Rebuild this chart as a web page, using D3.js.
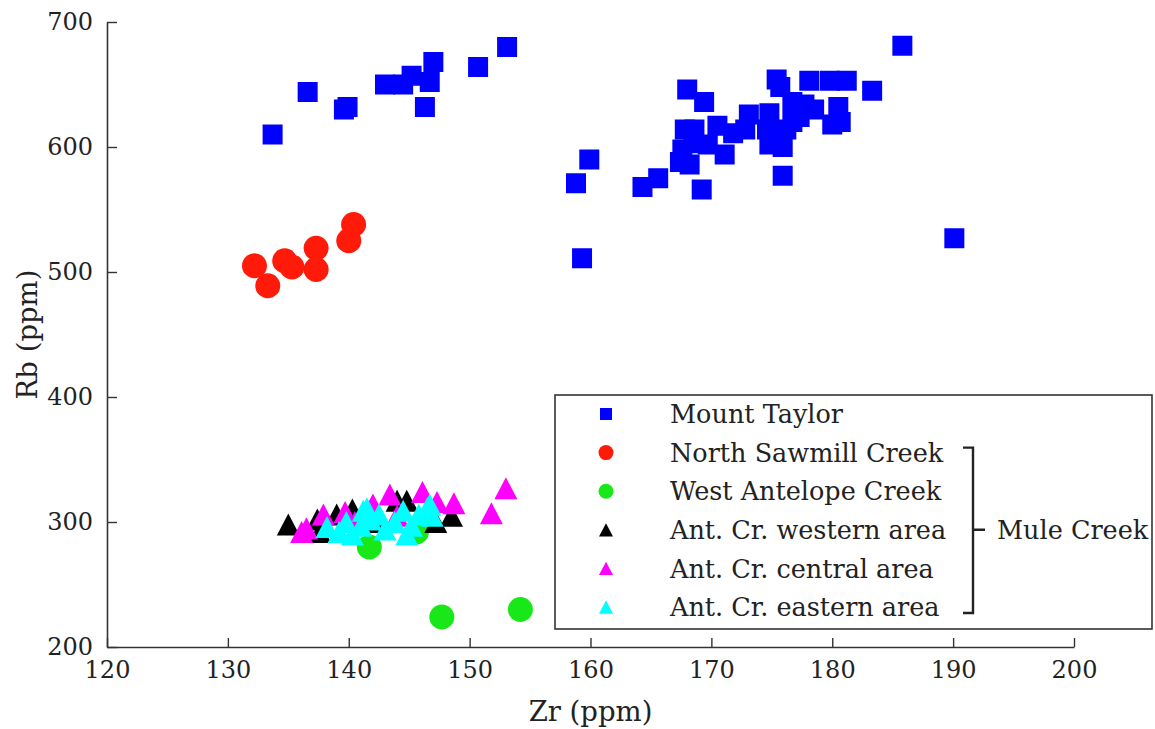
<!DOCTYPE html>
<html>
<head>
<meta charset="utf-8">
<script src="https://cdn.jsdelivr.net/npm/d3@7"></script>
<style>
  html, body { margin: 0; padding: 0; background: #fff; }
  svg { display: block; }
  text { font-family: "DejaVu Serif", serif; fill: #222; }
</style>
</head>
<body>
<svg id="chart" width="1155" height="729"></svg>
<script>
// Zr vs Rb (ppm) for Mount Taylor and Mule Creek obsidian sources

const xTicks = [120, 130, 140, 150, 160, 170, 180, 190, 200];
const yTicks = [200, 300, 400, 500, 600, 700];

const mountTaylor = [
  [133.7, 610], [136.6, 644], [139.6, 630], [139.9, 632], [143.0, 650], [144.5, 650],
  [145.2, 657], [146.7, 652], [147.0, 668], [146.3, 632], [150.7, 664], [153.1, 680],
  [185.8, 681], [159.9, 590], [158.8, 571], [159.3, 511], [190.1, 527], [164.3, 568],
  [165.6, 575], [169.2, 566], [175.9, 577], [168.0, 646], [169.4, 636], [175.4, 654],
  [175.7, 648], [178.1, 653], [179.8, 653], [181.2, 653], [183.3, 645], [180.5, 632],
  [180.7, 620], [180.0, 618], [176.7, 636], [177.7, 634], [178.5, 630], [177.3, 624],
  [176.7, 620], [173.1, 626], [174.8, 627], [174.6, 614], [174.8, 602], [175.9, 600],
  [176.2, 614], [172.8, 614], [170.5, 617], [171.8, 611], [171.1, 594], [167.8, 614],
  [168.6, 614], [167.6, 598], [169.7, 602], [167.4, 588], [168.2, 586], [168.5, 603]
];

const northSawmill = [
  [132.2, 505], [133.3, 489], [134.7, 509], [135.3, 504],
  [137.3, 519], [137.3, 502], [140.0, 525], [140.4, 538]
];

const westAntelope = [[147.7, 224], [154.2, 230], [141.7, 280], [145.6, 292]];

const antWestern = [
  [135.0, 298], [137.4, 302], [137.6, 292], [139.0, 306], [140.3, 310],
  [144.0, 317], [144.8, 317], [147.2, 300], [148.5, 305], [142.5, 300]
];

const antCentral = [
  [136.1, 292], [136.5, 295], [137.9, 306], [139.7, 308], [140.5, 300], [142.0, 314],
  [143.4, 322], [144.0, 305], [146.1, 324], [147.3, 316], [148.7, 315], [151.8, 307],
  [153.0, 327]
];

const antEastern = [
  [138.2, 296], [139.2, 292], [139.8, 300], [140.3, 290], [141.0, 297], [141.2, 309],
  [141.5, 311], [141.8, 302], [142.5, 306], [143.0, 294], [143.8, 300], [144.5, 309],
  [144.8, 290], [145.2, 297], [145.8, 306], [146.5, 311], [146.7, 314], [146.9, 305]
];

const seriesNames = [
  "Mount Taylor", "North Sawmill Creek", "West Antelope Creek",
  "Ant. Cr. western area", "Ant. Cr. central area", "Ant. Cr. eastern area"
];
const groupLabel = "Mule Creek";

const seriesData = [mountTaylor, northSawmill, westAntelope, antWestern, antCentral, antEastern];
const seriesColors = ["#0000ff", "#ff1a0a", "#18e818", "#000000", "#ff00ff", "#00ffff"];
const seriesShapes = ["square", "circle", "circle", "triangle", "triangle", "triangle"];

const serif = "'DejaVu Serif', serif";
const svg = d3.select("#chart");

const x = d3.scaleLinear().domain([120, 200]).range([107, 1074]);
const y = d3.scaleLinear().domain([200, 700]).range([647, 22]);

// marker shapes centred on their bounding box; size = width in px
const triBox = {
  draw(ctx, s) {
    const w = s, h = s * 0.95;
    ctx.moveTo(0, -h / 2);
    ctx.lineTo(w / 2, h / 2);
    ctx.lineTo(-w / 2, h / 2);
    ctx.closePath();
  }
};
const squareBox = {
  draw(ctx, s) { ctx.rect(-s / 2, -s / 2, s, s); }
};
const circleBox = {
  draw(ctx, s) { ctx.moveTo(s / 2, 0); ctx.arc(0, 0, s / 2, 0, 2 * Math.PI); }
};
const shapeType = { square: squareBox, circle: circleBox, triangle: triBox };
const plotSize = { square: 20, circle: 25, triangle: 23 };
const legendSize = { square: 12, circle: 15, triangle: 14 };

// axes, ticks pointing into the plot
const axisColor = "#333";
const xAxis = d3.axisBottom(x).tickValues(xTicks).tickSizeInner(-9).tickSizeOuter(0).tickPadding(14);
const yAxis = d3.axisLeft(y).tickValues(yTicks).tickSizeInner(-10).tickSizeOuter(0).tickPadding(14);

const gx = svg.append("g").attr("transform", `translate(0,${y(200)})`).call(xAxis);
const gy = svg.append("g").attr("transform", `translate(${x(120)},0)`).call(yAxis);
[gx, gy].forEach(g => {
  g.attr("font-family", serif);
  g.select(".domain").attr("stroke", axisColor).attr("stroke-width", 1.6);
  g.selectAll(".tick line").attr("stroke", axisColor).attr("stroke-width", 1.4);
  g.selectAll(".tick text")
    .attr("fill", "#222")
    .style("font-family", serif)
    .style("font-size", "24px");
});

// axis titles
svg.append("text")
  .attr("x", (x(120) + x(200)) / 2).attr("y", 721)
  .attr("text-anchor", "middle")
  .style("font-size", "27.5px")
  .text("Zr (ppm)");

svg.append("text")
  .attr("transform", `translate(37,${(y(200) + y(700)) / 2}) rotate(-90)`)
  .attr("text-anchor", "middle")
  .style("font-size", "27.5px")
  .text("Rb (ppm)");

// data marks
const sym = d3.symbol();
seriesData.forEach((data, i) => {
  const shape = seriesShapes[i];
  svg.append("g")
    .selectAll("path")
    .data(data)
    .join("path")
    .attr("transform", d => `translate(${x(d[0])},${y(d[1])})`)
    .attr("d", sym.type(shapeType[shape]).size(plotSize[shape])())
    .attr("fill", seriesColors[i]);
});

// legend
const legend = svg.append("g");
legend.append("rect")
  .attr("x", 555).attr("y", 395).attr("width", 597).attr("height", 234)
  .attr("fill", "#fff").attr("stroke", axisColor).attr("stroke-width", 1.6);

const rowY = i => 414 + i * 38.6;
seriesNames.forEach((name, i) => {
  const shape = seriesShapes[i];
  legend.append("path")
    .attr("transform", `translate(606,${rowY(i)})`)
    .attr("d", d3.symbol().type(shapeType[shape]).size(legendSize[shape])())
    .attr("fill", seriesColors[i]);
  legend.append("text")
    .attr("x", 670).attr("y", rowY(i))
    .attr("dy", "0.36em")
    .style("font-size", "25.5px")
    .text(name);
});

// bracket grouping the Mule Creek sources
const bTop = rowY(1) - 5, bBot = rowY(5) + 6, bx = 973;
const bracket = d3.path();
bracket.moveTo(bx - 10, bTop);
bracket.lineTo(bx, bTop);
bracket.lineTo(bx, bBot);
bracket.lineTo(bx - 10, bBot);
bracket.moveTo(bx, rowY(3));
bracket.lineTo(bx + 12, rowY(3));
legend.append("path")
  .attr("d", bracket.toString())
  .attr("fill", "none").attr("stroke", "#222").attr("stroke-width", 2.4);
legend.append("text")
  .attr("x", 997).attr("y", rowY(3))
  .attr("dy", "0.36em")
  .style("font-size", "25.5px")
  .text(groupLabel);
</script>
</body>
</html>
